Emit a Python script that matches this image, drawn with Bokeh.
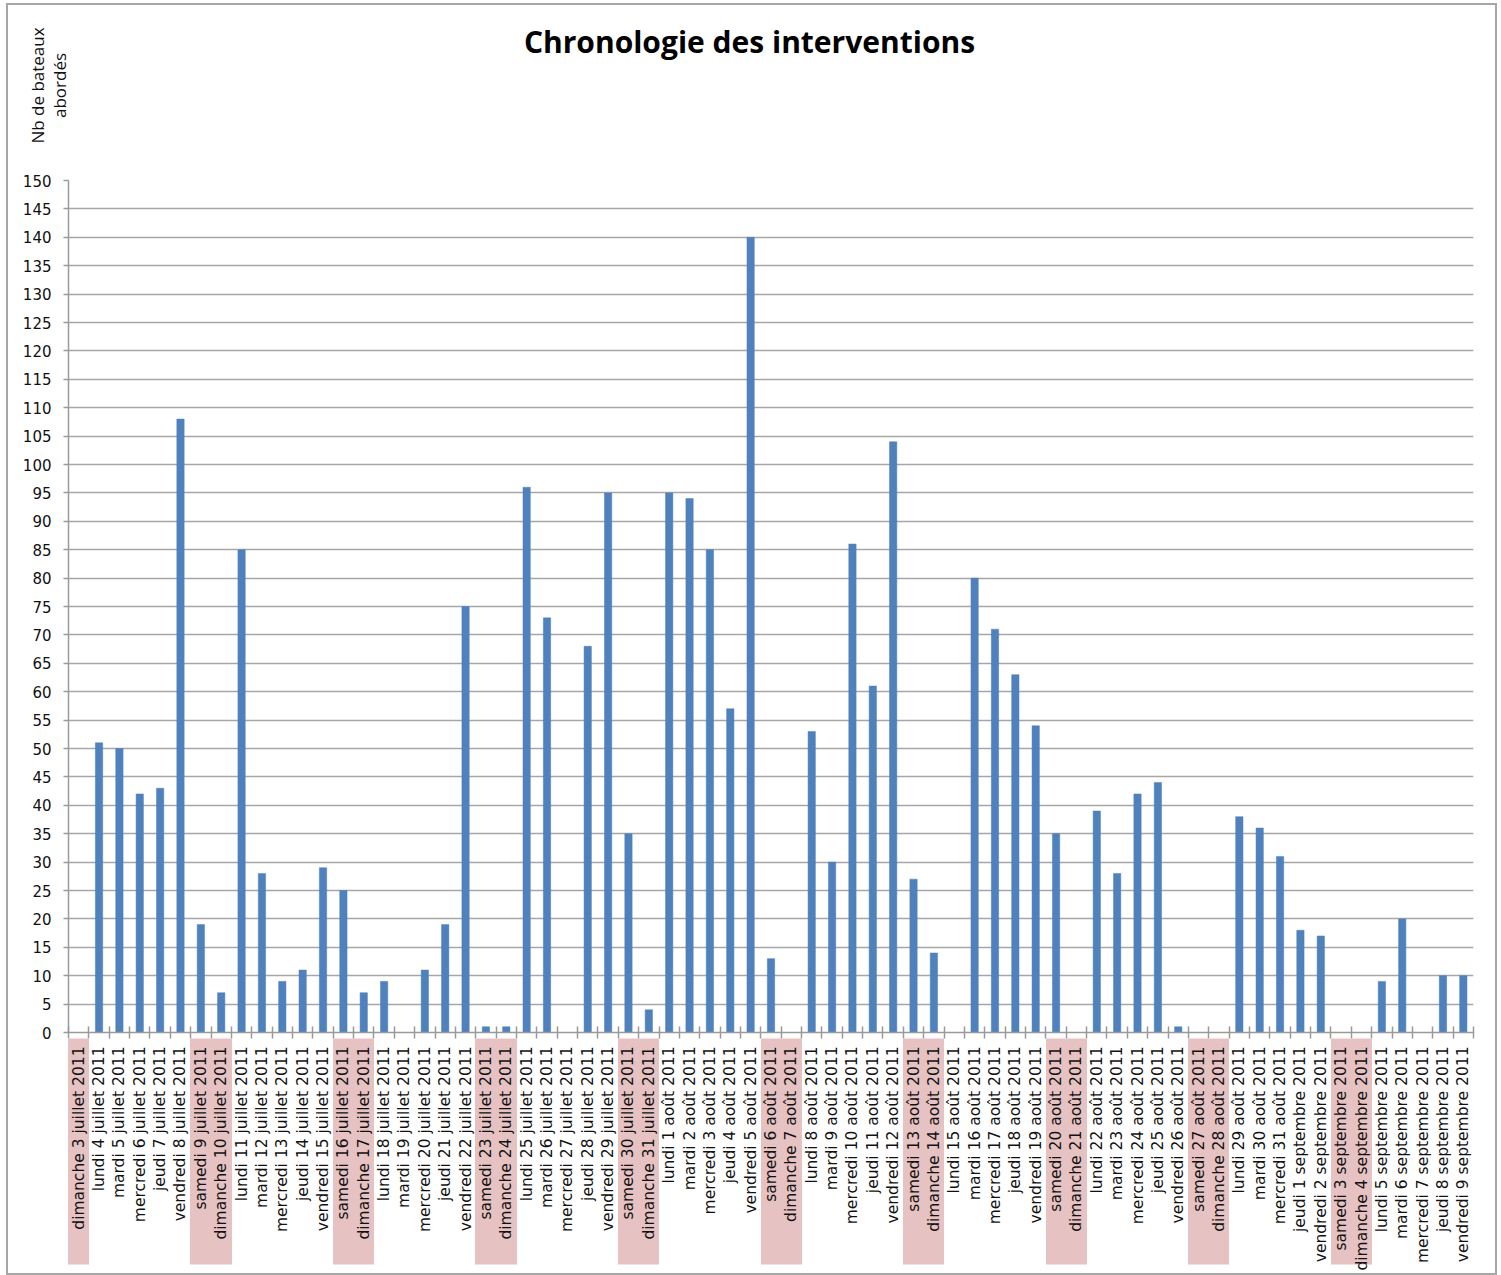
import math
from bokeh.plotting import figure
from bokeh.layouts import column
from bokeh.models import Range1d, FixedTicker, Label, LinearAxis, Title
from bokeh.embed import file_html
from bokeh.resources import INLINE

# ---- data ----
days = [
    "dimanche 3 juillet 2011", "lundi 4 juillet 2011", "mardi 5 juillet 2011",
    "mercredi 6 juillet 2011", "jeudi 7 juillet 2011", "vendredi 8 juillet 2011",
    "samedi 9 juillet 2011", "dimanche 10 juillet 2011", "lundi 11 juillet 2011",
    "mardi 12 juillet 2011", "mercredi 13 juillet 2011", "jeudi 14 juillet 2011",
    "vendredi 15 juillet 2011", "samedi 16 juillet 2011", "dimanche 17 juillet 2011",
    "lundi 18 juillet 2011", "mardi 19 juillet 2011", "mercredi 20 juillet 2011",
    "jeudi 21 juillet 2011", "vendredi 22 juillet 2011", "samedi 23 juillet 2011",
    "dimanche 24 juillet 2011", "lundi 25 juillet 2011", "mardi 26 juillet 2011",
    "mercredi 27 juillet 2011", "jeudi 28 juillet 2011", "vendredi 29 juillet 2011",
    "samedi 30 juillet 2011", "dimanche 31 juillet 2011",
    "lundi 1 août 2011", "mardi 2 août 2011", "mercredi 3 août 2011",
    "jeudi 4 août 2011", "vendredi 5 août 2011", "samedi 6 août 2011",
    "dimanche 7 août 2011", "lundi 8 août 2011", "mardi 9 août 2011",
    "mercredi 10 août 2011", "jeudi 11 août 2011", "vendredi 12 août 2011",
    "samedi 13 août 2011", "dimanche 14 août 2011", "lundi 15 août 2011",
    "mardi 16 août 2011", "mercredi 17 août 2011", "jeudi 18 août 2011",
    "vendredi 19 août 2011", "samedi 20 août 2011", "dimanche 21 août 2011",
    "lundi 22 août 2011", "mardi 23 août 2011", "mercredi 24 août 2011",
    "jeudi 25 août 2011", "vendredi 26 août 2011", "samedi 27 août 2011",
    "dimanche 28 août 2011", "lundi 29 août 2011", "mardi 30 août 2011",
    "mercredi 31 août 2011",
    "jeudi 1 septembre 2011", "vendredi 2 septembre 2011", "samedi 3 septembre 2011",
    "dimanche 4 septembre 2011", "lundi 5 septembre 2011", "mardi 6 septembre 2011",
    "mercredi 7 septembre 2011", "jeudi 8 septembre 2011", "vendredi 9 septembre 2011",
]
boats = [
    0, 51, 50, 42, 43, 108, 19, 7, 85, 28, 9, 11, 29, 25, 7, 9, 0, 11, 19, 75,
    1, 1, 96, 73, 0, 68, 95, 35, 4,
    95, 94, 85, 57, 140, 13, 0, 53, 30, 86, 61, 104, 27, 14, 0, 80, 71, 63, 54,
    35, 0, 39, 28, 42, 44, 1, 0, 0, 38, 36, 31,
    18, 17, 0, 0, 9, 20, 0, 10, 10,
]
y_ticks = list(range(0, 151, 5))
title_text = "Chronologie des interventions"
ylabel_lines = ["Nb de bateaux", "abordés"]

n = len(days)
centers = [i + 0.5 for i in range(n)]
bounds = list(range(n + 1))
weekend_centers = [c for c, d in zip(centers, days)
                   if d.startswith("samedi") or d.startswith("dimanche")]

# ---- layout geometry (canvas pixels; canvas sits at page offset 8, 5) ----
W = 1487
H_TOTAL = 1268
TOP_H = 160
MAIN_H = H_TOTAL - TOP_H
FL, FR = 60, 1465          # frame left / right
FT, FB = 175, 1029         # frame top / bottom
GRAY = "#9a9a9a"
PINK = "#e6c2c2"
BAND = 226

# ---- header (title + y label) ----
top = figure(width=W, height=TOP_H, output_backend="svg", toolbar_location=None,
             x_range=Range1d(FL, FR), y_range=Range1d(0, TOP_H),
             x_axis_location=None, y_axis_location=None,
             min_border_left=0, min_border_right=W - FR,
             min_border_top=0, min_border_bottom=0,
             border_fill_color="white", background_fill_color="white")
top.outline_line_color = None
top.grid.visible = False
top.add_layout(Label(x=741, y=TOP_H - 36, text=title_text, text_font="Open Sans",
                     text_font_style="bold", text_font_size="30px",
                     text_align="center", text_baseline="middle",
                     text_color="#000000"))
# y-axis caption: two lines, nearest line first
top.add_layout(Title(text=ylabel_lines[1], align="center", vertical_align="middle",
                     standoff=-6, text_font="Open Sans", text_font_size="17px",
                     text_font_style="normal", text_color="#111111"), "left")
top.add_layout(Title(text=ylabel_lines[0], align="center", vertical_align="middle",
                     standoff=0, text_font="Open Sans", text_font_size="17px",
                     text_font_style="normal", text_color="#111111"), "left")

# ---- main chart ----
p = figure(width=W, height=MAIN_H, output_backend="svg", toolbar_location=None,
           x_range=Range1d(0, n), y_range=Range1d(0, 150),
           x_axis_location=None,
           min_border_left=FL, min_border_right=W - FR, min_border_top=FT - TOP_H,
           min_border_bottom=MAIN_H - (FB - TOP_H), background_fill_color="white",
           border_fill_color="white")
p.outline_line_color = None

p.vbar(x=centers, top=boats, width=0.36, fill_color="#4f81bd",
       line_color="#4f81bd", line_width=0.5)

# y axis
p.yaxis.ticker = FixedTicker(ticks=y_ticks, minor_ticks=[])
p.yaxis.major_label_text_font = "DejaVu Sans"
p.yaxis.major_label_text_font_size = "15px"
p.yaxis.major_label_text_color = "#111111"
p.yaxis.major_tick_out = 5
p.yaxis.major_tick_in = 0
p.yaxis.major_label_standoff = 12
p.yaxis.axis_line_color = GRAY
p.yaxis.axis_line_width = 1.5
p.yaxis.major_tick_line_color = GRAY
p.yaxis.major_tick_line_width = 1.5
p.ygrid.ticker = FixedTicker(ticks=y_ticks)
p.ygrid.grid_line_color = "#a6a6a6"
p.ygrid.grid_line_width = 1.5
p.xgrid.grid_line_color = None

# x axis 1: boundary tick marks crossing the axis line
ax_ticks = LinearAxis(ticker=FixedTicker(ticks=bounds, minor_ticks=[]))
ax_ticks.major_label_overrides = {b: "" for b in bounds}
ax_ticks.major_label_text_font_size = "0px"
ax_ticks.major_label_standoff = 0
ax_ticks.major_tick_in = 6
ax_ticks.major_tick_out = 6
ax_ticks.major_tick_line_color = GRAY
ax_ticks.major_tick_line_width = 1.5
ax_ticks.axis_line_color = GRAY
ax_ticks.axis_line_width = 1.5
ax_ticks.minor_tick_line_color = None
p.add_layout(ax_ticks, "below")

# x axis 2: day labels, with weekend bands (long minor ticks) behind them
ax_lab = LinearAxis(ticker=FixedTicker(ticks=centers, minor_ticks=weekend_centers))
ax_lab.major_label_overrides = {c: d for c, d in zip(centers, days)}
ax_lab.major_label_orientation = math.pi / 2
ax_lab.major_label_text_font = "DejaVu Sans"
ax_lab.major_label_text_font_size = "15.5px"
ax_lab.major_label_text_color = "#111111"
ax_lab.major_tick_in = 0
ax_lab.major_tick_out = 0
ax_lab.major_tick_line_color = None
ax_lab.minor_tick_in = 0
ax_lab.minor_tick_out = BAND
ax_lab.minor_tick_line_color = PINK
ax_lab.minor_tick_line_width = 21
ax_lab.major_label_standoff = 8 - BAND
ax_lab.axis_line_color = None
p.add_layout(ax_lab, "below")

layout = column(top, p, spacing=0)
layout.margin = (3, 0, 0, 6)
layout.styles = {"border": "2px solid #a6a6a6"}
open("out.html", "w").write(file_html(layout, INLINE))
